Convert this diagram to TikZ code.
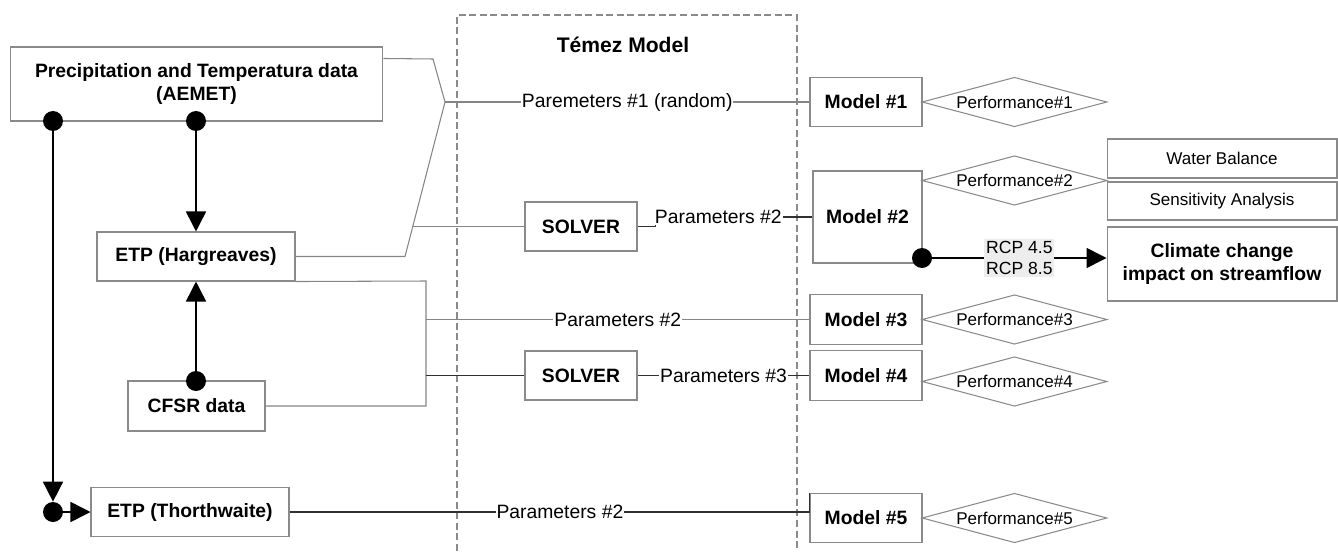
\documentclass[tikz,border=0pt]{standalone}
\usepackage{fontspec}
\setmainfont{Liberation Sans}
\usetikzlibrary{arrows.meta,shapes.geometric}

\definecolor{boxgray}{HTML}{8A8A8A}
\definecolor{linegray}{HTML}{858585}
\definecolor{darkline}{HTML}{303030}

\tikzset{
	box/.style={draw=boxgray,line width=0.6pt,align=center,inner sep=0pt,
		font=\fontsize{11}{13.6}\selectfont\bfseries},
	modelbox/.style={box,minimum width=2.24cm,minimum height=0.99cm},
	perf/.style={diamond,draw=boxgray,line width=0.6pt,aspect=3.7,inner sep=0pt,
		minimum width=3.7cm,minimum height=0.99cm,font=\fontsize{9.7}{11}\selectfont},
	note/.style={draw=boxgray,line width=0.6pt,inner sep=0pt,minimum width=4.6cm,
		font=\fontsize{9.7}{11}\selectfont},
	dot/.style={circle,fill,minimum size=0.4cm,inner sep=0pt},
	lab/.style={fill=white,inner sep=0.5pt,font=\fontsize{11}{13}\selectfont},
	gline/.style={draw=linegray,line width=0.6pt},
	kline/.style={draw=darkline,line width=0.8pt},
	arr/.style={draw=black,line width=0.9pt,-{Triangle[length=0.4cm,width=0.4cm]}},
}

\begin{document}
\begin{tikzpicture}[x=0.02cm,y=-0.02cm]
		\useasboundingbox (0,0) rectangle (1338,551);
		% Temez frame
		\draw[boxgray,line width=0.6pt,dash pattern=on 4pt off 2pt] (457,551) |- (797,15) -- (797,551);
		\node[font=\fontsize{12}{14}\selectfont\bfseries] (temez) at (623,45) {Témez Model};

		% input data
		\node[box,minimum width=7.46cm,minimum height=1.48cm] (prec) at (196.5,84) {Precipitation and Temperatura data\\(AEMET)};
		\node[box,minimum width=3.96cm,minimum height=0.98cm] (harg) at (196,256.5) {ETP (Hargreaves)};
		\node[box,minimum width=2.74cm,minimum height=1cm] (cfsr) at (196.5,406) {CFSR data};
		\node[box,minimum width=3.96cm,minimum height=0.98cm] (thor) at (190,512) {ETP (Thorthwaite)};

		\node[box,minimum width=2.24cm,minimum height=0.98cm] (solA) at (581,226.5) {SOLVER};
		\node[box,minimum width=2.24cm,minimum height=0.98cm] (solB) at (581,375.5) {SOLVER};

		% models and performance
		\node[modelbox] (mod1) at (866,102) {Model \#1};
		\node[modelbox,minimum width=2.18cm,minimum height=1.84cm] (mod2) at (867.5,217) {Model \#2};
		\node[modelbox] (mod3) at (866,319.5) {Model \#3};
		\node[modelbox] (mod4) at (866,375.5) {Model \#4};
		\node[modelbox] (mod5) at (866,518) {Model \#5};
		\node[perf] (perf1) at (1014.5,102) {Performance\#1};
		\node[perf] (perf2) at (1014.5,180.5) {Performance\#2};
		\node[perf] (perf3) at (1014.5,319.5) {Performance\#3};
		\node[perf] (perf4) at (1014.5,381.5) {Performance\#4};
		\node[perf] (perf5) at (1014.5,518) {Performance\#5};

		\node[note,minimum height=0.78cm] (water) at (1222,158.5) {Water Balance};
		\node[note,minimum height=0.76cm] (sens) at (1222,201) {Sensitivity Analysis};
		\node[box,minimum width=4.6cm,minimum height=1.48cm] (clim) at (1222,264) {Climate change\\impact on streamflow};

		% dots
		\node[dot] (d1) at (53,121) {};
		\node[dot] (d2) at (196,121) {};
		\node[dot] (d3) at (196,381) {};
		\node[dot] (d4) at (922,258) {};
		\node[dot] (d5) at (53,512) {};

		% arrows
		\draw[arr] (d2) -- (harg.north);
		\draw[arr] (d3) -- (harg.south);
		\draw[arr] (d1) -- (d5);
		\draw[arr] (d5) -- (thor.west);
		\draw[arr] (d4) -- node[fill=black!7,inner sep=1pt,align=center,font=\fontsize{10}{12}\selectfont] (rcp) {RCP 4.5\\RCP 8.5} (d4 -| clim.west);

		% connectors
		\coordinate (mrg) at (445,102);
		\coordinate (brA) at (413,226.5);
		\coordinate (busT) at (426,281);
		\draw[gline] (prec.north east) ++(0,12) -- (433,59) -- (mrg);
		\draw[gline] (harg.east) -- (405,256.5) -- (mrg);
		\draw[gline] (mrg) -- node[lab] (par1) {Paremeters \#1 (random)} (mod1.west);
		\draw[gline] (brA) -- (solA.west);
		\draw[kline] (solA.east) -- ++(18,0) |- node[lab,pos=0.7] (par2) {Parameters \#2} (mod2.west);
		\draw[gline] (harg.south east) -- (busT) |- (cfsr.east);
		\draw[gline] (busT |- mod3.west) -- node[lab] (par3) {Parameters \#2} (mod3.west);
		\draw[kline] (busT |- solB.west) -- (solB.west);
		\draw[kline] (solB.east) -- node[lab] (par4) {Parameters \#3} (mod4.west);
		\draw[kline] (thor.east) -- node[lab,pos=0.52] (par5) {Parameters \#2} (thor.east -| mod5.west) -- (mod5.north west);
\end{tikzpicture}
\end{document}
